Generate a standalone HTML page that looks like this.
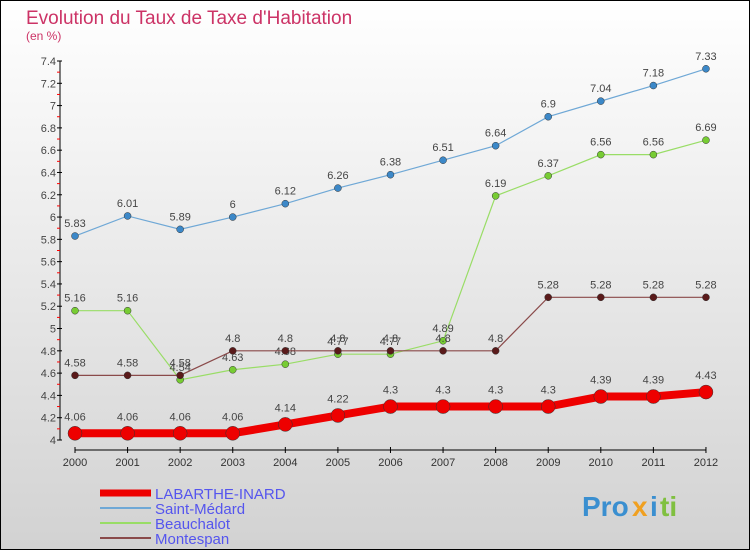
<!DOCTYPE html>
<html><head><meta charset="utf-8"><style>
body{margin:0;width:750px;height:550px;overflow:hidden;font-family:"Liberation Sans","DejaVu Sans",sans-serif}
svg text{font-family:"Liberation Sans","DejaVu Sans",sans-serif}
</style></head><body>
<svg id="chart" width="750" height="550" xmlns="http://www.w3.org/2000/svg">
<defs><linearGradient id="bg" x1="0" y1="0" x2="0" y2="1"><stop offset="0" stop-color="#ffffff"/><stop offset="1" stop-color="#d2d2d2"/></linearGradient></defs>
<rect x="0.5" y="0.5" width="749" height="549" fill="url(#bg)" stroke="#000"/>
<text x="26" y="24" font-size="19" fill="#cc3366">Evolution du Taux de Taxe d'Habitation</text>
<text x="26" y="40" font-size="12" fill="#cc3366">(en %)</text>
<g id="axes"></g><g id="series"></g><g id="legend"></g>
<g font-size="28" font-weight="bold">
<text x="582" y="516" fill="#3a8fd0">Pro</text><text x="632" y="516" fill="#f0a020">x</text><text x="650" y="516" fill="#3a8fd0">i</text><text x="660" y="516" fill="#80c040">ti</text>
</g>
</svg>
<script>
const years=[2000,2001,2002,2003,2004,2005,2006,2007,2008,2009,2010,2011,2012];
const labarthe=[4.06,4.06,4.06,4.06,4.14,4.22,4.3,4.3,4.3,4.3,4.39,4.39,4.43];
const saintMedard=[5.83,6.01,5.89,6,6.12,6.26,6.38,6.51,6.64,6.9,7.04,7.18,7.33];
const beauchalot=[5.16,5.16,4.54,4.63,4.68,4.77,4.77,4.89,6.19,6.37,6.56,6.56,6.69];
const montespan=[4.58,4.58,4.58,4.8,4.8,4.8,4.8,4.8,4.8,5.28,5.28,5.28,5.28];
const yTicks=[4,4.2,4.4,4.6,4.8,5,5.2,5.4,5.6,5.8,6,6.2,6.4,6.6,6.8,7,7.2,7.4];
const NS="http://www.w3.org/2000/svg";
const xs=y=>75+(y-2000)*52.58;
const ys=v=>440-(v-4)*(379/3.4);
function mk(t,a,p){const e=document.createElementNS(NS,t);for(const k in a)e.setAttribute(k,a[k]);p.appendChild(e);return e;}
const ax=document.getElementById('axes');
let yl=mk('line',{x1:60,y1:ys(7.4),x2:60,y2:ys(4),stroke:'#000'},ax);


let xl=mk('line',{x1:75,y1:450,x2:706,y2:450,stroke:'#000'},ax);


yTicks.forEach((v,i)=>{
 mk('line',{x1:57,x2:62,y1:ys(v),y2:ys(v),stroke:'#000'},ax);
 if(i<yTicks.length-1)mk('line',{x1:57,x2:60,y1:ys(v+0.1),y2:ys(v+0.1),stroke:'#f00'},ax);
 const t=mk('text',{x:56,y:ys(v)+4,'font-size':11,fill:'#444','text-anchor':'end'},ax);
 
 
 t.textContent=String(v);
});
years.forEach(y=>{
 mk('line',{x1:xs(y),x2:xs(y),y1:447,y2:453,stroke:'#000'},ax);
 const t=mk('text',{x:xs(y),y:466,'font-size':11,fill:'#333','text-anchor':'middle'},ax);
 
 
 t.textContent=y;
});
const sg=document.getElementById('series');
function draw(vals,color,dot,w,r,name){
 const g=mk('g',{},sg);
 
 
 mk('polyline',{points:vals.map((v,i)=>xs(years[i])+','+ys(v)).join(' '),fill:'none',stroke:color,'stroke-width':w},g);
 vals.forEach((v,i)=>{
  const c=mk('circle',{cx:xs(years[i]),cy:ys(v),r:r,fill:dot,stroke:'#333','stroke-width':0.5},g);
  
  
  const t=mk('text',{x:xs(years[i]),y:ys(v)-(w>4?13:9),'font-size':11,fill:'#444','text-anchor':'middle'},g);
  
  
  t.textContent=String(v);
 });
}
draw(saintMedard,'#6fa8d6','#3c88c8',1.2,3.5,'series-saint-medard');
draw(beauchalot,'#99dd66','#77cc33',1.2,3.5,'series-beauchalot');
draw(montespan,'#8a4a4a','#5a1a1a',1.2,3.5,'series-montespan');
draw(labarthe,'#ee0000','#ee0000',8,7,'series-labarthe-inard');
const lg=document.getElementById('legend');
const leg=[['LABARTHE-INARD','#ee0000',7],['Saint-Médard','#6fa8d6',2],['Beauchalot','#99dd66',2],['Montespan','#8a4a4a',2]];
leg.forEach((l,i)=>{
 const y=493+i*15;
 const g=mk('g',{},lg);
 
 
 mk('line',{x1:100,x2:151,y1:y,y2:y,stroke:l[1],'stroke-width':l[2]},g);
 const t=mk('text',{x:155,y:y+6,'font-size':15,fill:'#5555ee'},g);
 t.textContent=l[0];
});
</script>
</body></html>
